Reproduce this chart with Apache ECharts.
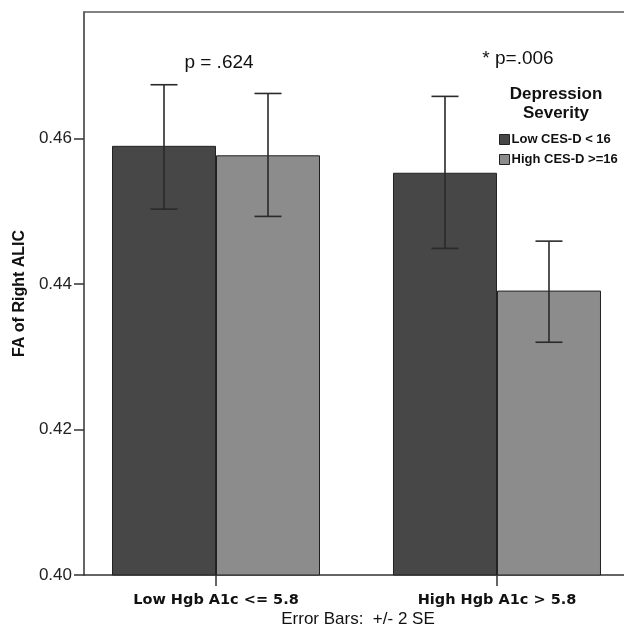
<!DOCTYPE html>
<html>
<head>
<meta charset="utf-8">
<script src="https://cdn.jsdelivr.net/npm/echarts@6/dist/echarts.min.js"></script>
<style>html,body{margin:0;padding:0;background:#fff}#c{width:624px;height:630px}</style>
</head>
<body>
<div id="c"></div>
<script>
const categories = ['Low Hgb A1c <= 5.8', 'High Hgb A1c > 5.8'];
const seriesNames = ['Low CES-D < 16', 'High CES-D >=16'];
const lowCesdMean = [0.4590, 0.4553];
const lowCesdUpper = [0.4674, 0.4658];
const lowCesdLower = [0.4503, 0.4449];
const highCesdMean = [0.4577, 0.4391];
const highCesdUpper = [0.4662, 0.4459];
const highCesdLower = [0.4493, 0.4320];
const yTicks = [0.40, 0.42, 0.44, 0.46];
const pLabels = ['p = .624', '* p=.006'];

const BAR_W = 104;
const colors = ['#474747', '#8c8c8c'];

const chart = echarts.init(document.getElementById('c'), null, {renderer: 'canvas'});

function barData(vals) { return vals.map((v, i) => [i, v]); }
function errData(up, lo) { return up.map((u, i) => [i, lo[i], u]); }

function errRender(offset) {
  return function (params, api) {
    const x = api.value(0);
    const lo = api.coord([x, api.value(1)]);
    const hi = api.coord([x, api.value(2)]);
    const cx = lo[0] + offset;
    const cap = 13.5;
    const style = {stroke: '#2a2a2a', lineWidth: 1.6, fill: null};
    return {
      type: 'group',
      children: [
        {type: 'line', shape: {x1: cx, y1: hi[1], x2: cx, y2: lo[1]}, style},
        {type: 'line', shape: {x1: cx - cap, y1: hi[1], x2: cx + cap, y2: hi[1]}, style},
        {type: 'line', shape: {x1: cx - cap, y1: lo[1], x2: cx + cap, y2: lo[1]}, style}
      ]
    };
  };
}

const option = {
  backgroundColor: '#fff',
  animation: false,
  grid: {left: 84, top: 12, bottom: 55, right: 0, show: false},
  xAxis: [{
    type: 'value',
    min: -0.4698, max: 1.452,
    splitLine: {show: false},
    axisLine: {show: true, onZero: false, lineStyle: {color: '#333', width: 1.5}},
    axisTick: {show: true, customValues: [0, 1], length: 11, lineStyle: {color: '#333', width: 1.5}},
    axisLabel: {
      customValues: [0, 1],
      formatter: v => categories[Math.round(v)],
      fontFamily: 'DejaVu Sans', fontWeight: 'bold', fontSize: 14.5, color: '#111', margin: 18
    }
  }, {
    type: 'value', position: 'top',
    min: -0.4698, max: 1.452,
    splitLine: {show: false},
    axisLine: {show: true, onZero: false, lineStyle: {color: '#5a5a5a', width: 1.5}},
    axisTick: {show: false}, axisLabel: {show: false}
  }],
  yAxis: {
    type: 'value',
    min: 0.40, max: 0.4774,
    name: 'FA of Right ALIC',
    nameLocation: 'middle', nameGap: 55, nameRotate: 90,
    nameTextStyle: {fontFamily: 'Liberation Sans', fontWeight: 'bold', fontSize: 16, color: '#111'},
    splitLine: {show: false},
    axisLine: {show: true, onZero: false, lineStyle: {color: '#333', width: 1.5}},
    axisTick: {show: true, customValues: yTicks, length: 10, lineStyle: {color: '#333', width: 1.5}},
    axisLabel: {
      customValues: yTicks,
      fontFamily: 'Liberation Sans', fontSize: 17, color: '#222', margin: 12,
      formatter: v => v.toFixed(2)
    }
  },
  legend: {
    data: seriesNames,
    orient: 'vertical', left: 494, top: 128,
    itemWidth: 10, itemHeight: 10, itemGap: 7,
    icon: 'rect',
    itemStyle: {borderColor: '#222', borderWidth: 1},
    textStyle: {fontFamily: 'Liberation Sans', fontWeight: 'bold', fontSize: 13, color: '#111', padding: [0,0,0,-3]}
  },
  graphic: [
    {type: 'text', style: {text: 'Depression\nSeverity', x: 556, y: 85, textAlign: 'center', fontFamily: 'Liberation Sans', fontWeight: 'bold', fontSize: 17, lineHeight: 19, fill: '#111'}},
    {type: 'text', style: {text: pLabels[0], x: 219, y: 53, textAlign: 'center', fontFamily: 'Liberation Sans', fontSize: 19, fill: '#111'}},
    {type: 'text', style: {text: pLabels[1], x: 518, y: 49, textAlign: 'center', fontFamily: 'Liberation Sans', fontSize: 19, fill: '#111'}},
    {type: 'text', style: {text: 'Error Bars:  +/- 2 SE', x: 358, y: 611, textAlign: 'center', fontFamily: 'Liberation Sans', fontSize: 17, fill: '#111'}}
  ],
  series: [
    {name: seriesNames[0], type: 'bar', data: barData(lowCesdMean), barWidth: BAR_W, barGap: '0%',
     itemStyle: {color: colors[0], borderColor: '#222', borderWidth: 1}},
    {name: seriesNames[1], type: 'bar', data: barData(highCesdMean), barWidth: BAR_W, barGap: '0%',
     itemStyle: {color: colors[1], borderColor: '#222', borderWidth: 1}},
    {name: 'err0', type: 'custom', data: errData(lowCesdUpper, lowCesdLower), renderItem: errRender(-BAR_W / 2), z: 5},
    {name: 'err1', type: 'custom', data: errData(highCesdUpper, highCesdLower), renderItem: errRender(BAR_W / 2), z: 5}
  ]
};
chart.setOption(option);
</script>
</body>
</html>
